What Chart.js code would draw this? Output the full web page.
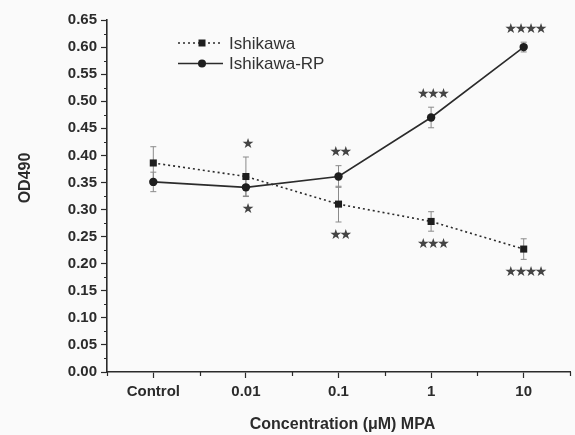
<!DOCTYPE html>
<html>
<head>
<meta charset="utf-8">
<script src="https://cdn.jsdelivr.net/npm/chart.js@4.4.0/dist/chart.umd.min.js"></script>
<style>
  html, body { margin: 0; padding: 0; background: #fafafa; }
  #wrap { width: 575px; height: 435px; }
</style>
</head>
<body>
<div id="wrap"><canvas id="chart" width="575" height="435"></canvas></div>
<script>
// Data
const categories = ['Control', '0.01', '0.1', '1', '10'];
const ishikawa = [0.386, 0.361, 0.310, 0.278, 0.227];
const ishikawaErr = [0.030, 0.036, 0.033, 0.018, 0.019];
const ishikawaRP = [0.351, 0.341, 0.361, 0.470, 0.600];
const ishikawaRPErr = [0.018, 0.017, 0.020, 0.019, 0.009];
const starsAbove = ['', '★', '★★', '★★★', '★★★★'];
const starsBelow = ['', '★', '★★', '★★★', '★★★★'];
const yTitle = 'OD490';
const xTitle = 'Concentration (μM) MPA';

const ink = '#2b2b2b';
const tickFont = { family: 'Liberation Sans, Arial, sans-serif', size: 15, weight: 'bold' };

// error bars, minor ticks, stars, legend and axis titles
const extras = {
    id: 'extras',
    beforeDatasetsDraw(chart) {
        const ctx = chart.ctx;
        const x = chart.scales.x, y = chart.scales.y;
        ctx.save();
        ctx.strokeStyle = '#8a8a8a';
        ctx.lineWidth = 1;
        [[ishikawa, ishikawaErr], [ishikawaRP, ishikawaRPErr]].forEach(([vals, errs]) => {
            vals.forEach((v, i) => {
                const px = x.getPixelForValue(i);
                const top = y.getPixelForValue(v + errs[i]);
                const bot = y.getPixelForValue(v - errs[i]);
                ctx.beginPath();
                ctx.moveTo(px, top); ctx.lineTo(px, bot);
                ctx.moveTo(px - 3, top); ctx.lineTo(px + 3, top);
                ctx.moveTo(px - 3, bot); ctx.lineTo(px + 3, bot);
                ctx.stroke();
            });
        });
        ctx.restore();
    },
    afterDraw(chart) {
        const ctx = chart.ctx;
        const x = chart.scales.x, y = chart.scales.y;
        const area = chart.chartArea;
        ctx.save();

        // minor ticks
        ctx.strokeStyle = ink;
        ctx.lineWidth = 1.2;
        ctx.beginPath();
        for (let v = 0.025; v < 0.65; v += 0.05) {
            const py = Math.round(y.getPixelForValue(v)) + 0.5;
            ctx.moveTo(area.left, py); ctx.lineTo(area.left - 3, py);
        }
        for (let i = -0.5; i <= categories.length - 0.5; i += 1) {
            const px = Math.round(x.getPixelForValue(i)) + 0.5;
            ctx.moveTo(px, area.bottom); ctx.lineTo(px, area.bottom + 4);
        }
        ctx.stroke();

        // significance stars
        ctx.fillStyle = '#444';
        ctx.font = '14px "DejaVu Sans"';
        ctx.letterSpacing = '-2.5px';
        ctx.textAlign = 'center';
        ctx.textBaseline = 'middle';
        categories.forEach((c, i) => {
            const px = x.getPixelForValue(i);
            const hi = Math.max(ishikawa[i] + ishikawaErr[i], ishikawaRP[i] + ishikawaRPErr[i]);
            const lo = Math.min(ishikawa[i] - ishikawaErr[i], ishikawaRP[i] - ishikawaRPErr[i]);
            if (starsAbove[i]) ctx.fillText(starsAbove[i], px + 1, y.getPixelForValue(hi) - 13);
            if (starsBelow[i]) ctx.fillText(starsBelow[i], px + 1, y.getPixelForValue(lo) + 13);
        });
        ctx.letterSpacing = '0px';

        // legend
        ctx.textAlign = 'left';
        ctx.font = '17px "Liberation Sans", Arial, sans-serif';
        chart.data.datasets.forEach((ds, k) => {
            const ly = 43 + k * 20.5;
            ctx.strokeStyle = ds.borderColor;
            ctx.lineWidth = ds.borderWidth;
            ctx.setLineDash(ds.borderDash || []);
            ctx.beginPath();
            ctx.moveTo(178, ly); ctx.lineTo(223, ly);
            ctx.stroke();
            ctx.setLineDash([]);
            ctx.fillStyle = ds.pointBackgroundColor;
            if (ds.pointStyle === 'rect') {
                ctx.fillRect(198.5, ly - 3.5, 7, 7);
            } else {
                ctx.beginPath();
                ctx.arc(202, ly, 4, 0, Math.PI * 2);
                ctx.fill();
            }
            ctx.fillStyle = '#333';
            ctx.fillText(ds.label, 229, ly + 1);
        });

        // axis titles
        ctx.fillStyle = ink;
        ctx.font = 'bold 16px "Liberation Sans", Arial, sans-serif';
        ctx.textAlign = 'center';
        ctx.fillText(xTitle, (area.left + area.right) / 2 + 4, 425);
        ctx.translate(26, 178);
        ctx.rotate(-Math.PI / 2);
        ctx.fillText(yTitle, 0, 0);
        ctx.restore();
    }
};

const ctx = document.getElementById('chart').getContext('2d');
new Chart(ctx, {
    type: 'line',
    data: {
        labels: categories,
        datasets: [
            {
                label: 'Ishikawa',
                data: ishikawa,
                borderColor: ink,
                borderWidth: 1.6,
                borderDash: [2, 3],
                pointStyle: 'rect',
                pointRadius: 5,
                pointBackgroundColor: '#1e1e1e',
                pointBorderColor: '#1e1e1e',
                pointBorderWidth: 0,
                tension: 0
            },
            {
                label: 'Ishikawa-RP',
                data: ishikawaRP,
                borderColor: ink,
                borderWidth: 1.6,
                pointStyle: 'circle',
                pointRadius: 4.2,
                pointBackgroundColor: '#1e1e1e',
                pointBorderColor: '#1e1e1e',
                pointBorderWidth: 0,
                tension: 0
            }
        ]
    },
    options: {
        responsive: false,
        animation: false,
        layout: { padding: { top: 20, right: 0, left: 0, bottom: 0 } },
        plugins: {
            legend: { display: false },
            tooltip: { enabled: false }
        },
        scales: {
            x: {
                type: 'category',
                offset: true,
                afterFit: s => { s.height = 63; },
                grid: { display: true, drawOnChartArea: false, drawTicks: true, tickLength: 6, tickColor: ink, tickWidth: 1.2, offset: false },
                border: { display: true, color: ink, width: 1.6 },
                ticks: { color: ink, font: tickFont, padding: 5, maxRotation: 0 }
            },
            y: {
                min: 0,
                max: 0.65,
                afterFit: s => { s.width = 107; },
                grid: { display: true, drawOnChartArea: false, drawTicks: true, tickLength: 6, tickColor: ink, tickWidth: 1.2 },
                border: { display: true, color: ink, width: 1.6 },
                ticks: {
                    stepSize: 0.05,
                    color: ink,
                    font: tickFont,
                    padding: 4,
                    callback: v => v.toFixed(2)
                }
            }
        }
    },
    plugins: [extras]
});
</script>
</body>
</html>
